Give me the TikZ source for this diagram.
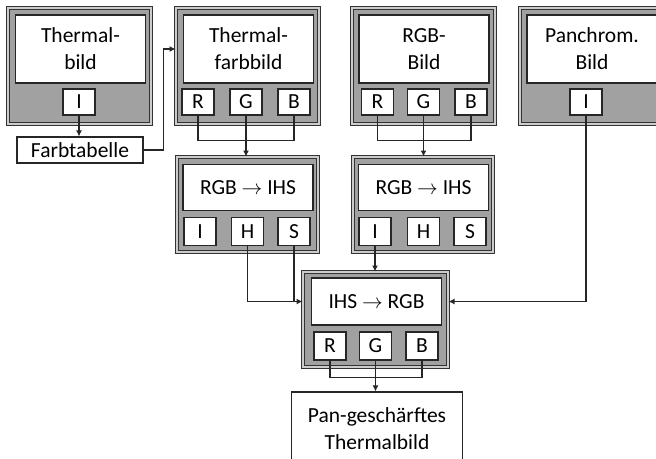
\documentclass[tikz,border=0pt]{standalone}
\usepackage{fontspec}
\setmainfont{Carlito}
\usetikzlibrary{arrows.meta,positioning,calc}

\begin{document}
\begin{tikzpicture}[
    x=1pt, y=-1pt,
    block/.style={draw=black!80, double=black!20, double distance=1.4pt, line width=1pt, fill=black!37, inner sep=0pt},
    panel/.style={draw=black!85, line width=1.1pt, fill=white, minimum width=130pt, align=center, inner sep=0pt, font=\fontsize{21.5}{27}\selectfont},
    chan/.style={draw=black!85, line width=1.1pt, fill=white, minimum width=32pt, inner sep=0pt, font=\fontsize{21.5}{24}\selectfont},
    plain/.style={draw=black!85, line width=1.1pt, fill=white, align=center, inner sep=0pt, font=\fontsize{21.5}{27}\selectfont},
    link/.style={draw=black!85, line width=1.6pt},
    >={Latex[length=6pt,width=6pt]}
  ]
  \useasboundingbox (0,0) rectangle (656,458);

  % Input images
  \node[block, minimum width=143pt, minimum height=116pt] (therm) at (79.5,66) {};
  \node[panel, minimum height=68pt] (thermtxt) at (80.5,49) {Thermal-\\bild};
  \node[chan, minimum height=26pt] (thermI) at (79,102) {I};

  \node[block, minimum width=143pt, minimum height=116pt] (farb) at (247.5,66) {};
  \node[panel, minimum height=68pt] (farbtxt) at (248.5,49) {Thermal-\\farbbild};
  \node[chan, minimum height=26pt] (farbR) at (198,102) {R};
  \node[chan, minimum height=26pt] (farbG) at (246,102) {G};
  \node[chan, minimum height=26pt] (farbB) at (294,102) {B};

  \node[block, minimum width=143pt, minimum height=116pt] (rgb) at (423.5,66) {};
  \node[panel, minimum height=68pt] (rgbtxt) at (424,49) {RGB-\\Bild};
  \node[chan, minimum height=26pt] (rgbR) at (377.5,102) {R};
  \node[chan, minimum height=26pt] (rgbG) at (423.5,102) {G};
  \node[chan, minimum height=26pt] (rgbB) at (471,102) {B};

  \node[block, minimum width=144pt, minimum height=116pt] (pan) at (592,66) {};
  \node[panel, minimum height=68pt] (pantxt) at (592,49) {Panchrom.\\Bild};
  \node[chan, minimum height=26pt] (panI) at (586,102) {I};

  \node[plain, minimum width=126pt, minimum height=26pt] (farbtab) at (80,150) {Farbtabelle};

  % Transforms
  \node[block, minimum width=141pt, minimum height=95pt] (ihsA) at (247.5,204.5) {};
  \node[panel, minimum height=46pt] (ihsAtxt) at (248,187.5) {RGB $\rightarrow$ IHS};
  \node[chan, minimum height=28pt] (ihsAI) at (200,231.5) {I};
  \node[chan, minimum height=28pt] (ihsAH) at (247.5,231.5) {H};
  \node[chan, minimum height=28pt] (ihsAS) at (294,231.5) {S};

  \node[block, minimum width=140pt, minimum height=95pt] (ihsB) at (423,204.5) {};
  \node[panel, minimum height=46pt] (ihsBtxt) at (423.5,187.5) {RGB $\rightarrow$ IHS};
  \node[chan, minimum height=28pt] (ihsBI) at (375,231.5) {I};
  \node[chan, minimum height=28pt] (ihsBH) at (423.5,231.5) {H};
  \node[chan, minimum height=28pt] (ihsBS) at (470,231.5) {S};

  \node[block, minimum width=145pt, minimum height=95pt] (back) at (375.5,319.5) {};
  \node[panel, minimum height=47pt] (backtxt) at (376.5,301.5) {IHS $\rightarrow$ RGB};
  \node[chan, minimum height=28pt] (backR) at (330,346) {R};
  \node[chan, minimum height=28pt] (backG) at (375.5,346) {G};
  \node[chan, minimum height=28pt] (backB) at (422,346) {B};

  % Result
  \node[plain, minimum width=171pt, minimum height=74pt] (result) at (377,429) {Pan-geschärftes\\Thermalbild};

  % Edges
  \draw[link, ->] (thermI.south) -- (thermI.south |- farbtab.north);
  \draw[link, ->] (farbtab.east) -- ++(20,0) |- (farbtxt -| farb.west);
  \draw[link] (farbR.south) -- ++(0,25) -| (farbB.south);
  \draw[link, ->] (farbG.south) -- (farbG.south |- ihsA.north);
  \draw[link] (rgbR.south) -- ++(0,25) -| (rgbB.south);
  \draw[link, ->] (rgbG.south) -- (rgbG.south |- ihsB.north);
  \draw[link, ->] (ihsAH.south) |- (backtxt -| back.west);
  \draw[link] (ihsAS.south) -- (ihsAS.south |- backtxt);
  \draw[link, ->] (ihsBI.south) -- (ihsBI.south |- back.north);
  \draw[link, ->] (panI.south) |- (backtxt -| back.east);
  \draw[link] (backR.south) -- ++(0,17) -| (backB.south);
  \draw[link, ->] (backG.south) -- (backG.south |- result.north);
\end{tikzpicture}
\end{document}
